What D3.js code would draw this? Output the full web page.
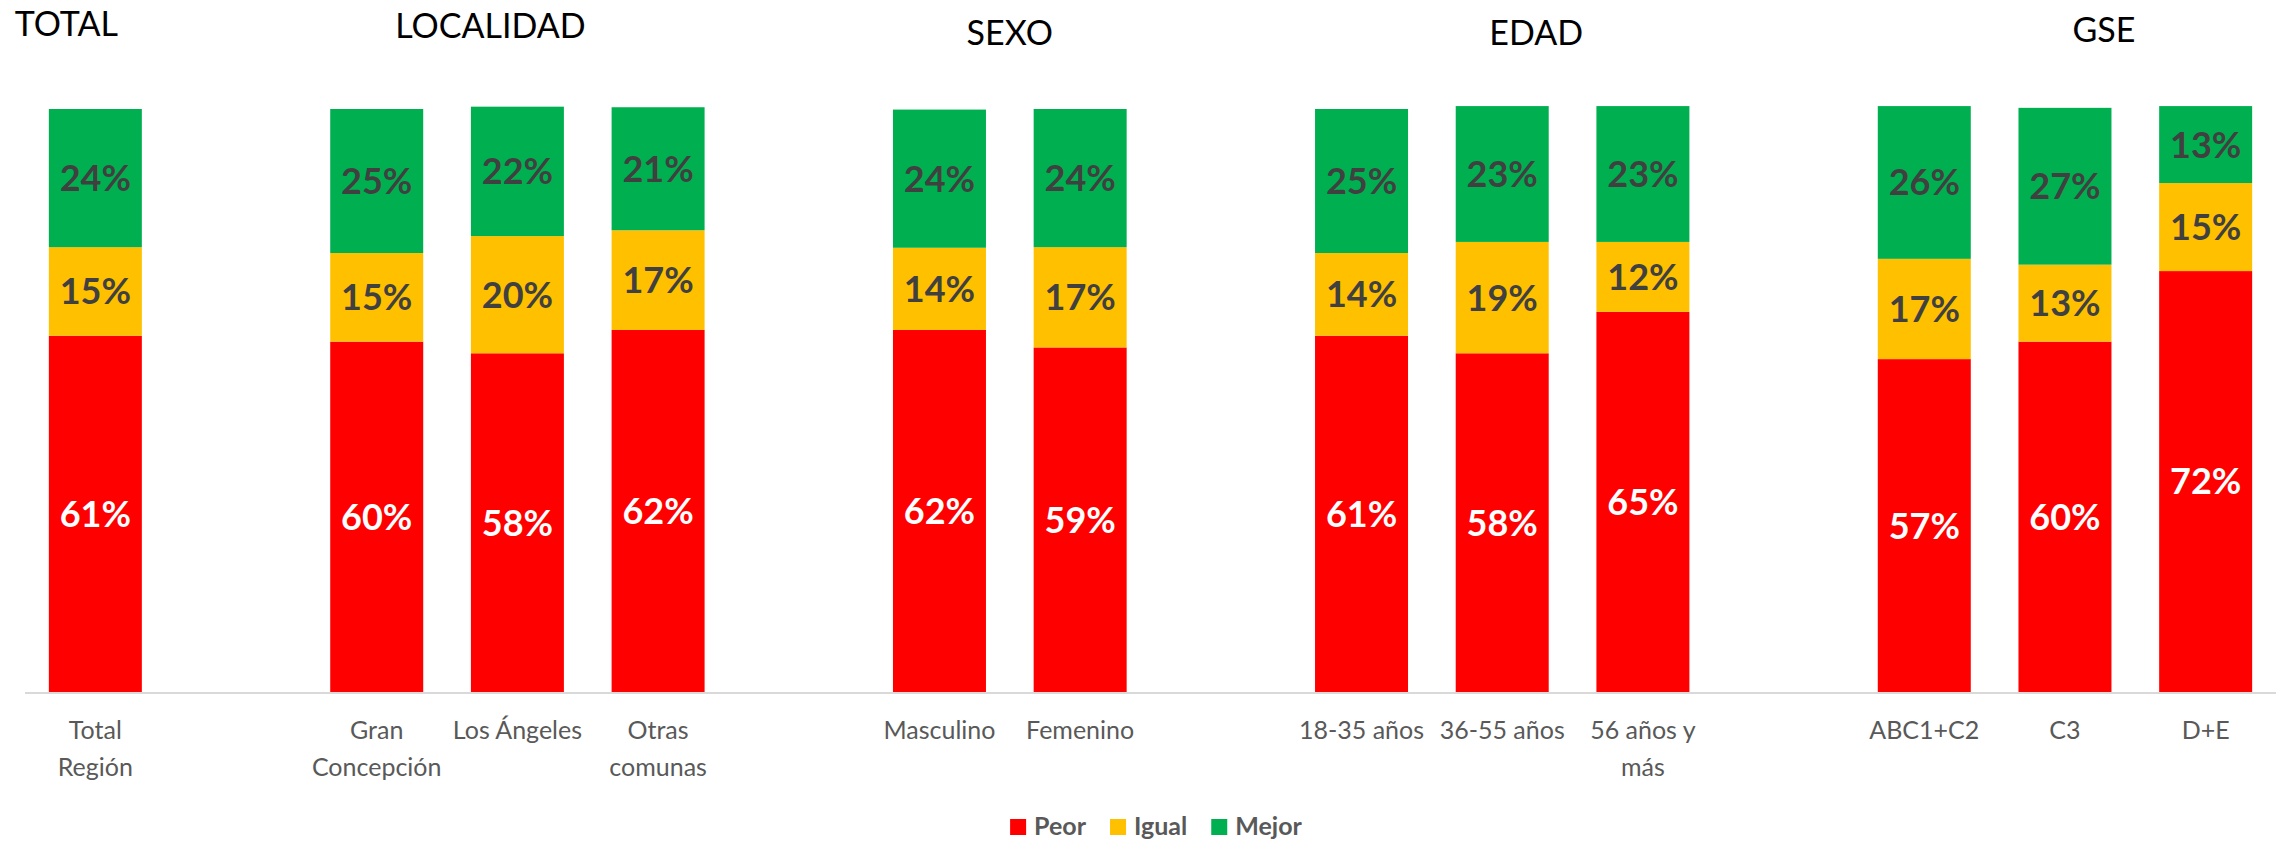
<!DOCTYPE html>
<html>
<head>
<meta charset="utf-8">
<script src="https://cdn.jsdelivr.net/npm/d3@7"></script>
<style>
  html, body { margin: 0; padding: 0; background: #fff; }
  svg { display: block; font-family: Lato, "Open Sans", sans-serif; }
</style>
</head>
<body>
<svg id="chart"></svg>
<script>
// Stacked bars: Peor / Igual / Mejor by segment (Total, Localidad, Sexo, Edad, GSE)

// Slots along the x axis; "" entries are the empty gaps between groups
const slots = ["Total Región", "", "Gran Concepción", "Los Ángeles", "Otras comunas", "",
  "Masculino", "Femenino", "", "18-35 años", "36-55 años", "56 años y más", "",
  "ABC1+C2", "C3", "D+E"];

// How each category label wraps onto lines
const tickLines = {
  "Total Región": ["Total", "Región"],
  "Gran Concepción": ["Gran", "Concepción"],
  "Los Ángeles": ["Los Ángeles"],
  "Otras comunas": ["Otras", "comunas"],
  "Masculino": ["Masculino"],
  "Femenino": ["Femenino"],
  "18-35 años": ["18-35 años"],
  "36-55 años": ["36-55 años"],
  "56 años y más": ["56 años y", "más"],
  "ABC1+C2": ["ABC1+C2"],
  "C3": ["C3"],
  "D+E": ["D+E"]
};

const categories = slots.filter(s => s !== "");

// values in %, same order as categories
const peor  = [61.1, 60.1, 58.1, 62.1, 62.1, 59.1, 61.1, 58.1, 65.2, 57.1, 60.1, 72.2];
const igual = [15.2, 15.2, 20.1, 17.1, 14.1, 17.2, 14.2, 19.1, 12.0, 17.2, 13.2, 15.1];
const mejor = [23.7, 24.7, 22.2, 21.1, 23.7, 23.7, 24.7, 23.3, 23.3, 26.2, 26.9, 13.2];

const seriesNames = ["Peor", "Igual", "Mejor"];

const groups = [
  { title: "TOTAL",     members: ["Total Región"] },
  { title: "LOCALIDAD", members: ["Gran Concepción", "Los Ángeles", "Otras comunas"] },
  { title: "SEXO",      members: ["Masculino", "Femenino"] },
  { title: "EDAD",      members: ["18-35 años", "36-55 años", "56 años y más"] },
  { title: "GSE",       members: ["ABC1+C2", "C3", "D+E"] }
];

// ---- layout ----
const W = 2282, H = 843;
const COLORS = { Peor: "#ff0000", Igual: "#ffc000", Mejor: "#00b050" };
const LABEL_FILL = { Peor: "#ffffff", Igual: "#404040", Mejor: "#404040" };
// hand nudges for the group titles (they sit off-centre in the original)
const TITLE_NUDGE = { TOTAL: [-29, 36], LOCALIDAD: [-27, 38], SEXO: [0, 45], EDAD: [34, 45], GSE: [39, 42] };

const svg = d3.select("#chart").attr("width", W).attr("height", H);

const rows = categories.map((c, i) => ({ cat: c, Peor: peor[i], Igual: igual[i], Mejor: mejor[i] }));
const stacked = d3.stack().keys(seriesNames)(rows);

const x = d3.scaleBand()
  .domain(slots.map((s, i) => s === "" ? "gap" + i : s))
  .range([25, 2276])
  .paddingInner(0.339)
  .paddingOuter(0.1695);

const y = d3.scaleLinear().domain([0, 100]).range([692, 109]);

// bars
stacked.forEach(layer => {
  const g = svg.append("g");
  g.selectAll("rect")
    .data(layer)
    .join("rect")
    .attr("x", d => x(d.data.cat))
    .attr("width", x.bandwidth())
    .attr("y", d => y(d[1]))
    .attr("height", d => y(d[0]) - y(d[1]))
    .attr("fill", COLORS[layer.key]);

  g.selectAll("text")
    .data(layer)
    .join("text")
    .attr("x", d => x(d.data.cat) + x.bandwidth() / 2)
    .attr("y", d => (y(d[0]) + y(d[1])) / 2)
    .attr("dy", "0.36em")
    .attr("text-anchor", "middle")
    .attr("font-size", 36)
    .attr("font-weight", 700)
    .attr("fill", LABEL_FILL[layer.key])
    .text(d => Math.round(d.data[layer.key]) + "%");
});

// x axis line
svg.append("line")
  .attr("x1", x.range()[0]).attr("x2", x.range()[1])
  .attr("y1", y(0) + 1).attr("y2", y(0) + 1)
  .attr("stroke", "#d9d9d9")
  .attr("stroke-width", 2);

// category labels
const tick = svg.append("g").selectAll("text")
  .data(categories)
  .join("text")
  .attr("text-anchor", "middle")
  .attr("font-size", 25)
  .attr("fill", "#595959");
tick.each(function (c) {
  const t = d3.select(this);
  const cx = x(c) + x.bandwidth() / 2;
  tickLines[c].forEach((line, i) => {
    t.append("tspan")
      .attr("x", cx)
      .attr("y", 739 + i * 37)
      .text(line);
  });
});

// group titles
groups.forEach(gr => {
  const xs = gr.members.map(m => x(m) + x.bandwidth() / 2);
  const cx = d3.mean(xs);
  const [dx, by] = TITLE_NUDGE[gr.title];
  svg.append("text")
    .attr("x", cx + dx)
    .attr("y", by)
    .attr("text-anchor", "middle")
    .attr("font-size", 34)
    .attr("fill", "#000")
    .text(gr.title);
});

// legend
const legend = svg.append("g");
let lx = 0;
seriesNames.forEach(name => {
  const item = legend.append("g").attr("transform", `translate(${lx},0)`);
  item.append("rect")
    .attr("x", 0).attr("y", -16)
    .attr("width", 16).attr("height", 16)
    .attr("fill", COLORS[name]);
  const t = item.append("text")
    .attr("x", 24).attr("y", 0)
    .attr("font-size", 25)
    .attr("font-weight", 700)
    .attr("fill", "#595959")
    .text(name);
  lx += 24 + t.node().getComputedTextLength() + 24;
});
const legW = lx - 24;
legend.attr("transform", `translate(${1156 - legW / 2},835)`);
</script>
</body>
</html>
